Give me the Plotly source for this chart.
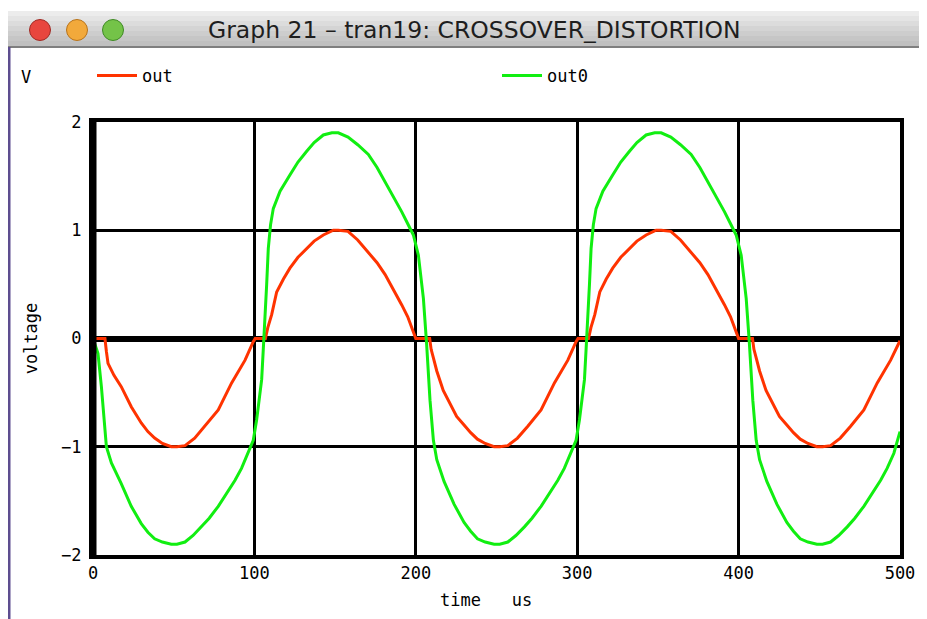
import plotly.graph_objects as go

# ---------------- data ----------------
t_out = [0, 7.4, 8.3, 9.3, 13, 17.5, 23.7, 29.9, 34, 38.2, 43, 48.5, 52, 57, 63, 69.4, 77.6, 85.9, 90, 94.2, 99.3,
         100.5, 106.8, 108.3, 110.7, 113.8, 118, 122, 127, 132.4, 137, 142.7, 148.9, 152, 158, 164, 170.6, 176, 181,
         186, 191.3, 195, 199.5, 200,
         208.6, 209.5, 210.9, 213, 217, 221, 225.3, 229.9, 234, 238.2, 243, 248.5, 252, 257, 263, 269.4, 277.6, 285.9,
         290, 294.2, 299.3, 300.5, 307,
         308.5, 310.9, 314, 318, 322, 327, 332.4, 337, 342.7, 348.9, 352, 358, 364, 370.6, 376, 381, 386, 391.3, 395,
         399.5, 400, 408.6,
         409.5, 410.9, 413, 417, 421, 425.3, 429.9, 434, 438.2, 443, 448.5, 452, 457, 463, 469.4, 477.6, 485.9, 490,
         494.2, 500]
v_out = [0, 0, -0.12, -0.23, -0.34, -0.445, -0.63, -0.78, -0.86, -0.92, -0.97, -1.0, -1.0, -0.99, -0.92, -0.81, -0.66,
         -0.41, -0.31, -0.2, -0.03,
         0, 0, 0.1, 0.22, 0.43, 0.55, 0.65, 0.75, 0.83, 0.9, 0.956, 1.0, 1.0, 0.99, 0.91, 0.8, 0.7, 0.59, 0.46, 0.31,
         0.2, 0.03, 0,
         0, -0.1, -0.18, -0.3, -0.48, -0.6, -0.72, -0.8, -0.87, -0.93, -0.97, -1.0, -1.0, -0.99, -0.92, -0.81, -0.66,
         -0.41, -0.31, -0.2, -0.03, 0, 0,
         0.1, 0.22, 0.43, 0.55, 0.65, 0.75, 0.83, 0.9, 0.956, 1.0, 1.0, 0.99, 0.91, 0.8, 0.7, 0.59, 0.46, 0.31, 0.2,
         0.03, 0, 0,
         -0.1, -0.18, -0.3, -0.48, -0.6, -0.72, -0.8, -0.87, -0.93, -0.97, -1.0, -1.0, -0.99, -0.92, -0.81, -0.66,
         -0.41, -0.31, -0.2, -0.02]

t_out0 = [0, 3.1, 5.2, 6.8, 8.3, 11.4, 17.5, 23.7, 29.9, 34, 38.2, 43, 48.5, 52, 57, 62, 67.3, 72, 77.6, 83, 88, 92,
          96.2, 99.3, 101.4, 103, 104.5, 105.5, 106.6, 107.6, 108.6, 110, 111.7, 115.9, 122, 127, 132.4, 137, 142.7,
          148, 152, 158, 164, 170.6, 176, 181, 186, 191.3, 195, 198.5, 201.6, 203, 204.7, 206.7, 208.8, 210.9,
          213, 217.5, 223.7, 229.9, 234, 238.2, 243, 248.5, 252, 257, 262, 267.3, 272, 277.6, 283, 288, 292, 296.2,
          299.3, 301.4, 303, 304.5, 305.5, 306.6, 307.6, 308.6, 310, 311.7, 315.9, 322, 327, 332.4, 337, 342.7, 348,
          352, 358, 364, 370.6, 376, 381, 386, 391.3, 395, 398.5, 401.6, 403, 404.7, 406.7, 408.8, 410.9,
          413, 417.5, 423.7, 429.9, 434, 438.2, 443, 448.5, 452, 457, 462, 467.3, 472, 477.6, 483, 488, 492, 496.2,
          500]
v_out0 = [0, -0.14, -0.445, -0.75, -1.0, -1.15, -1.34, -1.55, -1.71, -1.79, -1.85, -1.88, -1.9, -1.9, -1.88, -1.82,
          -1.74, -1.66, -1.55, -1.43, -1.31, -1.2, -1.06, -0.94, -0.75, -0.58, -0.38, -0.1, 0.17, 0.5, 0.83, 1.05,
          1.2, 1.36, 1.51, 1.63, 1.73, 1.81, 1.88, 1.9, 1.9, 1.86, 1.79, 1.7, 1.58, 1.45, 1.32, 1.17, 1.06, 0.956,
          0.77, 0.6, 0.37, -0.05, -0.57, -0.94,
          -1.12, -1.32, -1.53, -1.7, -1.78, -1.85, -1.88, -1.9, -1.9, -1.88, -1.82, -1.74, -1.66, -1.55, -1.43, -1.31,
          -1.2, -1.06, -0.94, -0.75, -0.58, -0.38, -0.1, 0.17, 0.5, 0.83, 1.05, 1.2, 1.36, 1.51, 1.63, 1.73, 1.81,
          1.88, 1.9, 1.9, 1.86, 1.79, 1.7, 1.58, 1.45, 1.32, 1.17, 1.06, 0.956, 0.77, 0.6, 0.37, -0.05, -0.57, -0.94,
          -1.12, -1.32, -1.53, -1.7, -1.78, -1.85, -1.88, -1.9, -1.9, -1.88, -1.82, -1.74, -1.66, -1.55, -1.43, -1.31,
          -1.2, -1.06, -0.86]

x_ticks = [0, 100, 200, 300, 400, 500]
y_ticks = [-2, -1, 0, 1, 2]

window_title = "Graph 21 \u2013 tran19: CROSSOVER_DISTORTION"
x_title = "time\u00a0\u00a0\u00a0us"
y_title = "voltage"
unit_label = "V"

# ---------------- layout constants ----------------
OFF = 8                      # page body margin in the browser
W, H = 927 - OFF, 619 - OFF
L, R, T, B = 93 - OFF, 27, 122 - OFF, 64
PW, PH = W - L - R, H - T - B
MONO = "DejaVu Sans Mono"


def px(xs):
    """screen x (reference pixel) -> paper fraction"""
    return (xs - OFF - L) / PW


def py(ys):
    """screen y (reference pixel) -> paper fraction"""
    return (H - B - (ys - OFF)) / PH


fig = go.Figure()
fig.add_trace(go.Scatter(x=t_out, y=v_out, mode="lines", name="out",
                         line=dict(color="#ff3300", width=3)))
fig.add_trace(go.Scatter(x=t_out0, y=v_out0, mode="lines", name="out0",
                         line=dict(color="#11ee11", width=3)))

shapes = []
# window title bar (gradient approximated with bands)
bands = ["#ececec", "#e4e4e4", "#dcdcdc", "#d4d4d4", "#cdcdcd", "#c6c6c6", "#c0c0c0"]
top, bot = 11, 46
bh = (bot - top) / len(bands)
for i, c in enumerate(bands):
    shapes.append(dict(type="rect", xref="paper", yref="paper", x0=px(6), x1=px(927),
                       y0=py(top + (i + 1) * bh), y1=py(top + i * bh),
                       fillcolor=c, line=dict(width=0), layer="above"))
shapes.append(dict(type="line", xref="paper", yref="paper", x0=px(6), x1=px(927), y0=py(47), y1=py(47),
                   line=dict(color="#7f7f7f", width=2), layer="above"))
# window left edge
shapes.append(dict(type="line", xref="paper", yref="paper", x0=px(9), x1=px(9), y0=py(619), y1=py(47),
                   line=dict(color="#5d4d8f", width=3), layer="above"))
# traffic lights
for cx, fc, lc in [(40, "#e8463e", "#a02a24"), (77, "#f2a93b", "#b8731a"), (113, "#74c348", "#3f8a25")]:
    r = 10.5
    shapes.append(dict(type="circle", xref="paper", yref="paper", x0=px(cx - r), x1=px(cx + r),
                       y0=py(30 + r), y1=py(30 - r), fillcolor=fc, line=dict(color=lc, width=1), layer="above"))
# thick left frame line at x = 0
shapes.append(dict(type="line", xref="paper", yref="paper", x0=0, x1=0, y0=-0.004, y1=1.004,
                   line=dict(color="black", width=7), layer="above"))

annotations = [
    dict(text=window_title, xref="paper", yref="paper", x=px(474), y=py(30), showarrow=False,
         xanchor="center", yanchor="middle", font=dict(family="DejaVu Sans", size=23.5, color="#1e1e1e")),
    dict(text=unit_label, xref="paper", yref="paper", x=px(19), y=py(77), showarrow=False,
         xanchor="left", yanchor="middle", font=dict(family=MONO, size=17, color="black")),
    dict(text=x_title, xref="paper", yref="paper", x=px(486), y=py(600), showarrow=False,
         xanchor="center", yanchor="middle", font=dict(family=MONO, size=17, color="black")),
]

fig.update_layout(
    width=W, height=H,
    margin=dict(l=L, r=R, t=T, b=B, pad=0),
    paper_bgcolor="white", plot_bgcolor="white",
    showlegend=True,
    legend=dict(orientation="h", x=px(92), y=py(76), xanchor="left", yanchor="middle",
                font=dict(family=MONO, size=17, color="black"), bgcolor="rgba(0,0,0,0)",
                itemwidth=40, entrywidth=350, entrywidthmode="pixels", traceorder="normal"),
    shapes=shapes, annotations=annotations,
    xaxis=dict(range=[0, 500], tickvals=x_ticks, ticktext=[str(v) for v in x_ticks],
               showgrid=True, gridcolor="black", gridwidth=3, zeroline=False,
               showline=True, linecolor="black", linewidth=4, mirror=True,
               ticks="", ticklabelstandoff=0,
               tickfont=dict(family=MONO, size=17, color="black")),
    yaxis=dict(range=[-2, 2], tickvals=y_ticks,
               showgrid=True, gridcolor="black", gridwidth=3,
               zeroline=True, zerolinecolor="black", zerolinewidth=6,
               showline=True, linecolor="black", linewidth=4, mirror=True,
               ticks="", ticklabelstandoff=4,
               tickfont=dict(family=MONO, size=17, color="black"),
               title=dict(text=y_title, font=dict(family=MONO, size=17, color="black"), standoff=20)),
)

fig.write_html("out.html")
